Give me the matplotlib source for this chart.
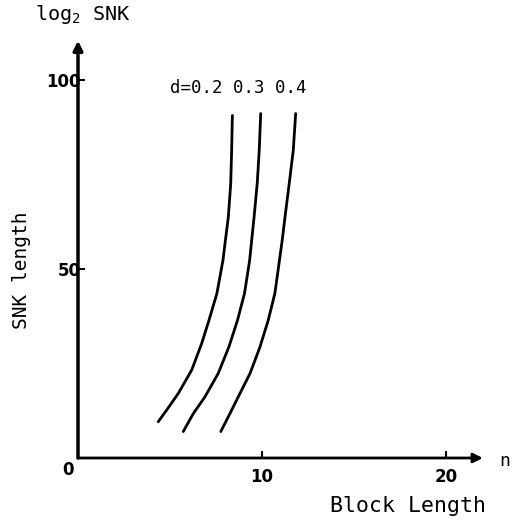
import matplotlib.pyplot as plt

plt.rcParams['mathtext.default'] = 'regular'

# curves: block length n vs log2 SNK length
d_labels = ["d=0.2", "0.3", "0.4"]
x_d02 = [4.36, 4.82, 5.45, 6.18, 6.72, 7.12, 7.55, 7.88, 7.99, 8.17, 8.30, 8.35, 8.39]
y_d02 = [9.6, 12.7, 17.1, 23.3, 30.3, 36.5, 43.6, 52.4, 56.8, 63.8, 72.7, 81.5, 90.7]
x_d03 = [5.72, 6.27, 6.90, 7.62, 8.20, 8.67, 9.05, 9.33, 9.44, 9.57, 9.74, 9.85, 9.93]
y_d03 = [7.0, 11.8, 16.2, 22.4, 29.4, 36.5, 43.6, 52.4, 57.7, 63.8, 72.7, 81.5, 91.2]
x_d04 = [7.76, 8.26, 8.71, 9.35, 9.89, 10.34, 10.70, 10.95, 11.10, 11.25, 11.48, 11.70, 11.83]
y_d04 = [7.0, 11.8, 16.2, 22.4, 29.4, 36.5, 43.6, 52.4, 57.7, 63.8, 72.7, 81.5, 91.2]

x_ticks = [10, 20]
y_ticks = [50, 100]

fig = plt.figure(figsize=(5.26, 5.26), dpi=100)
ax = fig.add_axes([78 / 526, 68 / 526, 414 / 526, 423 / 526])
ax.set_xlim(0, 22.5)
ax.set_ylim(0, 112)

for xs, ys in [(x_d02, y_d02), (x_d03, y_d03), (x_d04, y_d04)]:
    ax.plot(xs, ys, color="black", lw=2, solid_capstyle="round",
            solid_joinstyle="round")

for s in ["top", "right", "left", "bottom"]:
    ax.spines[s].set_visible(False)

# axes with arrow heads
ax.annotate("", xy=(22.0, 0), xytext=(0, 0),
            arrowprops=dict(arrowstyle="-|>", lw=2, color="black",
                            mutation_scale=14, shrinkA=0, shrinkB=0),
            annotation_clip=False)
ax.annotate("", xy=(0, 110.5), xytext=(0, 0),
            arrowprops=dict(arrowstyle="-|>", lw=2.5, color="black",
                            mutation_scale=14, shrinkA=0, shrinkB=0),
            annotation_clip=False)

ax.set_xticks(x_ticks)
ax.set_xticklabels([str(t) for t in x_ticks], fontsize=12, fontweight="bold")
ax.set_yticks(y_ticks)
ax.set_yticklabels([str(t) for t in y_ticks], fontsize=12, fontweight="bold")
ax.tick_params(direction="in", length=5, width=1.5)
ax.tick_params(axis="x", pad=7)
ax.tick_params(axis="y", pad=-2)
ax.text(-0.55, -3.2, "0", fontsize=12, fontweight="bold", ha="center", va="center")

mono = "DejaVu Sans Mono"
fig.text(35 / 526, 1 - 15 / 526, "log$_2$ SNK", family=mono, fontsize=14.5, va="center")
fig.text(22 / 526, 1 - 270 / 526, "SNK length", family=mono, fontsize=14,
         rotation=90, ha="center", va="center")
fig.text(408 / 526, 1 - 506 / 526, "Block Length", family=mono, fontsize=15.5,
         ha="center", va="center")
fig.text(499 / 526, 1 - 461 / 526, "n", family=mono, fontsize=13, ha="left", va="center")
ax.text(5.0, 98, " ".join(d_labels), family=mono, fontsize=12.5,
        ha="left", va="center")

fig.savefig("out.png", dpi=100)
